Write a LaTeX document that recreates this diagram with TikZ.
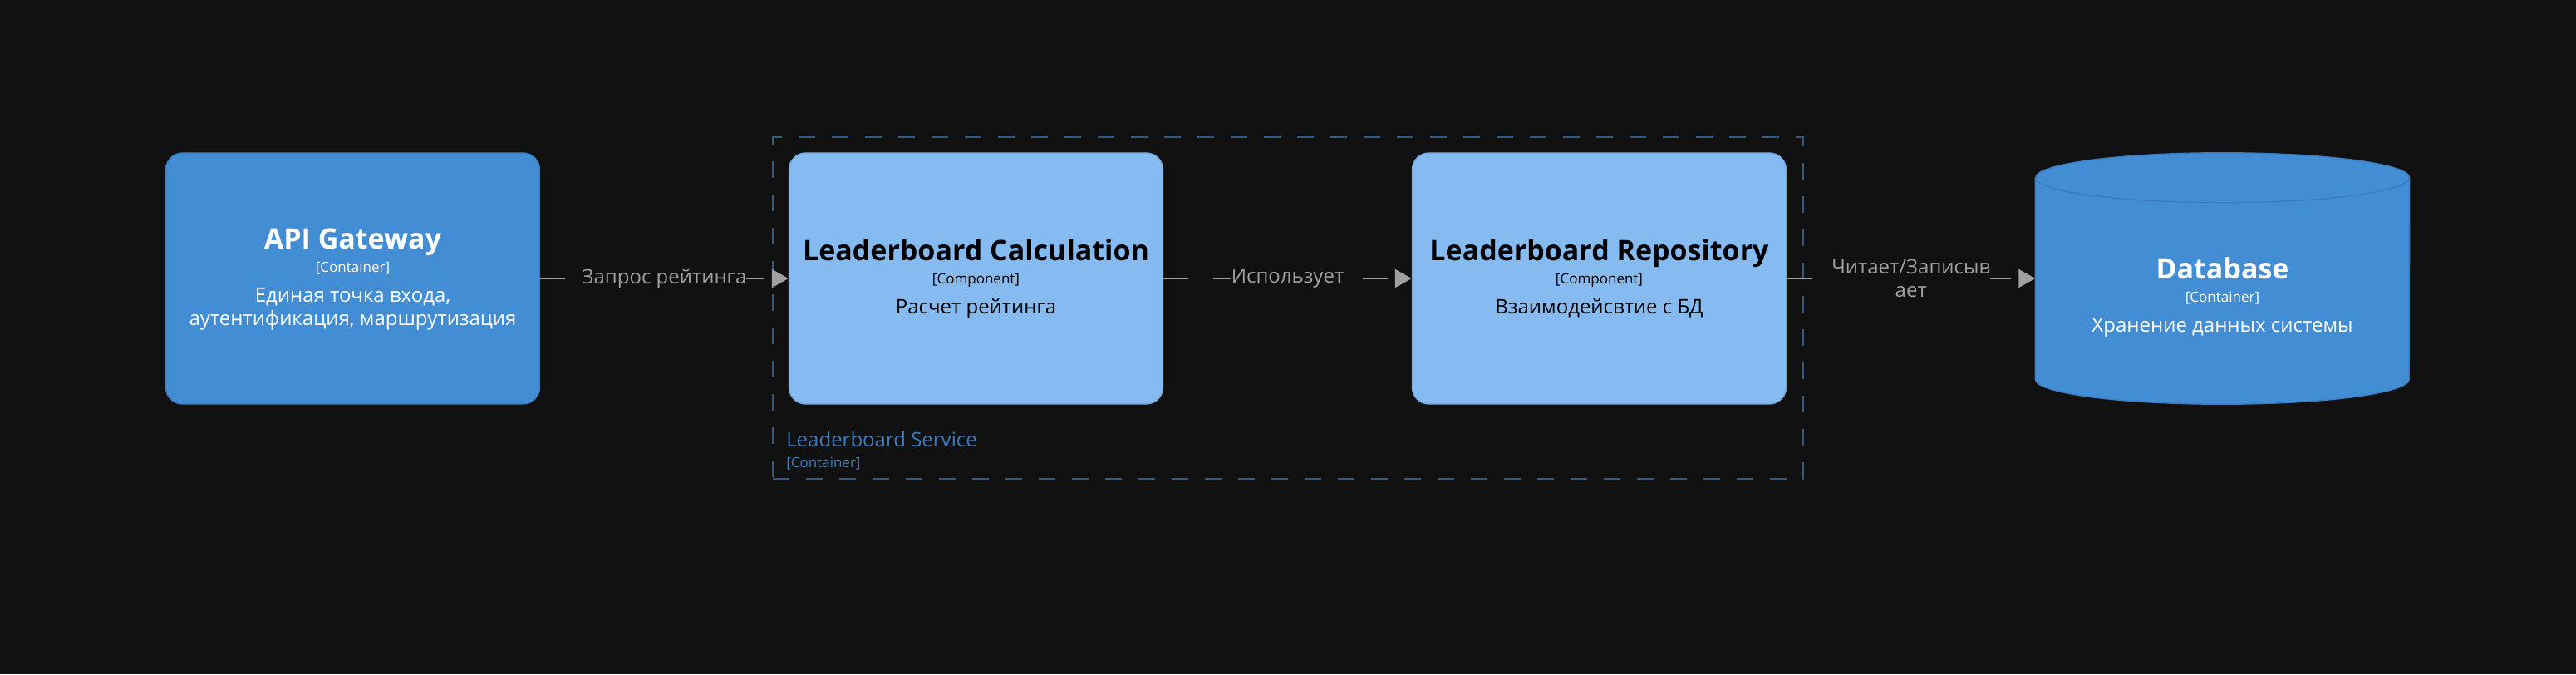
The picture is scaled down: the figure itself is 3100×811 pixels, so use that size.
\documentclass[tikz,border=0pt]{standalone}
\usepackage{fontspec}
\setmainfont{Open Sans}
\usetikzlibrary{arrows.meta}
\definecolor{bg}{HTML}{111111}
\definecolor{contblue}{HTML}{438DD5}
\definecolor{contline}{HTML}{3A7CBF}
\definecolor{compblue}{HTML}{85BBF0}
\definecolor{compline}{HTML}{73A6DA}
\definecolor{relgrey}{HTML}{A0A0A0}
\definecolor{bndline}{HTML}{2E5A86}
\definecolor{bndtext}{HTML}{3C7BBE}
\tikzset{
  container/.style={rectangle, rounded corners=15pt, fill=contblue, draw=contline, line width=1pt, minimum width=337.5pt, minimum height=226.5pt},
  component/.style={container, fill=compblue, draw=compline},
  boundary/.style={rectangle, draw=bndline, line width=1.5pt, dash pattern=on 15pt off 15pt, minimum width=930pt, minimum height=308.25pt},
  eltname/.style={anchor=base, inner sep=0pt, font=\fontsize{25.5}{30}\selectfont\bfseries},
  elttype/.style={anchor=base, inner sep=0pt, font=\fontsize{12.75}{15}\selectfont},
  eltdesc/.style={anchor=base, inner sep=0pt, font=\fontsize{18}{21}\selectfont},
  rel/.style={draw=relgrey, line width=1.5pt, dash pattern=on 22.5pt off 22.5pt, -{Triangle[length=15pt, width=16.5pt]}},
  rellabel/.style={fill=bg, inner sep=0pt, text=relgrey, align=center, font=\fontsize{18}{21}\selectfont}
}
\begin{document}
\begin{tikzpicture}[x=0.75pt, y=0.75pt]
\fill[bg] (0,0) rectangle (3100,811);
% boundary
\node (svc)[boundary] at (1550, 440.5) {};
\node (svc-name)[eltdesc, anchor=base west, text=bndtext] at (946, 274) {Leaderboard Service};
\node (svc-type)[elttype, anchor=base west, text=bndtext] at (946, 249) {[Container]};
% api gateway
\node (api)[container] at (424.5, 476) {};
\node (api-name)[eltname, text=white] at (424.5, 511) {API Gateway};
\node (api-type)[elttype, text=white] at (424.5, 483) {[Container]};
\node (api-desc1)[eltdesc, text=white] at (424.5, 447) {Единая точка входа,};
\node (api-desc2)[eltdesc, text=white] at (424.5, 419) {аутентификация, маршрутизация};
% components
\node (calc)[component] at (1174.5, 476) {};
\node (calc-name)[eltname] at (1174.5, 497) {Leaderboard Calculation};
\node (calc-type)[elttype] at (1174.5, 469) {[Component]};
\node (calc-desc)[eltdesc] at (1174.5, 433) {Расчет рейтинга};
\node (repo)[component] at (1924.5, 476) {};
\node (repo-name)[eltname] at (1924.5, 497) {Leaderboard Repository};
\node (repo-type)[elttype] at (1924.5, 469) {[Component]};
\node (repo-desc)[eltdesc] at (1924.5, 433) {Взаимодейсвтие с БД};
% database
\node (db)[rectangle, minimum width=337.5pt, minimum height=226.5pt] at (2674.5, 476) {};
\filldraw[fill=contblue, draw=contline, line width=1pt] ([yshift=-22.5pt]db.north west) -- ([yshift=22.5pt]db.south west)
  arc[start angle=180, end angle=360, x radius=168.75pt, y radius=22.5pt] -- ([yshift=-22.5pt]db.north east)
  arc[start angle=0, end angle=180, x radius=168.75pt, y radius=22.5pt] -- cycle;
\draw[contline, line width=1pt] ([yshift=-22.5pt]db.north west) arc[start angle=180, end angle=360, x radius=168.75pt, y radius=22.5pt];
\node (db-name)[eltname, text=white] at (2674.5, 475) {Database};
\node (db-type)[elttype, text=white] at (2674.5, 447) {[Container]};
\node (db-desc)[eltdesc, text=white] at (2674.5, 411) {Хранение данных системы};
% relations
\draw[rel] (api) -- node[rellabel] {Запрос рейтинга} (calc);
\draw[rel] (calc) -- node[rellabel] {Использует} (repo);
\draw[rel] (repo) -- node[rellabel] {Читает/Записыв\\ает} (db);
\end{tikzpicture}
\end{document}
